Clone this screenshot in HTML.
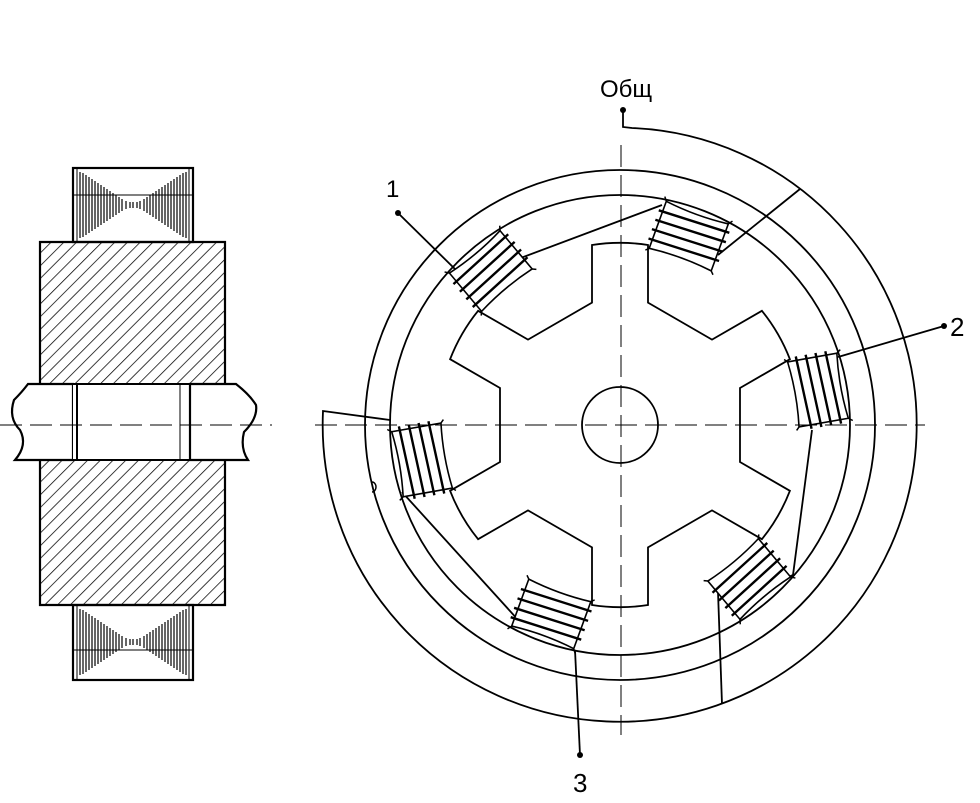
<!DOCTYPE html>
<html><head><meta charset="utf-8"><style>
html,body{margin:0;padding:0;background:#fff;}
svg{display:block;}
text{font-family:"Liberation Sans",sans-serif;fill:#000;}
</style></head><body>
<svg width="980" height="803" viewBox="0 0 980 803" xmlns="http://www.w3.org/2000/svg">
<defs>
<pattern id="h" width="9" height="9" patternUnits="userSpaceOnUse" patternTransform="rotate(45)">
<line x1="0" y1="0" x2="0" y2="9" stroke="#000" stroke-width="1.5"/>
</pattern>
<g id="coil" fill="none" stroke="#000">
<path d="M796 392 L846 392 Q842 425 846 458 L796 458 Q800 425 796 392 Z" stroke-width="1.6" fill="#fff"/>
<path d="M846 392 l4 -3 M846 458 l4 3 M796 392 l-3 -3 M796 458 l-3 3" stroke-width="1.5"/>
<path d="M805 388 L808 462 M815 388 L818 462 M825 388 L828 462 M835 388 L838 462" stroke-width="2.4"/>
</g>
</defs>

<!-- LEFT FIGURE -->
<g stroke="#000" fill="none">
<rect x="73" y="168" width="120" height="74" stroke-width="2.2"/>
<line x1="77" y1="168" x2="77" y2="242" stroke-width="1"/>
<line x1="189" y1="168" x2="189" y2="242" stroke-width="1"/>
<line x1="73" y1="195" x2="193" y2="195" stroke-width="1"/>
<path stroke-width="1.2" d="
M80 172 V238 M83 173 V237 M86 175 V235 M89 177 V233 M92 179 V231 M95 181 V229 M98 183 V227 M101 185 V225 M104 187 V223 M107 189 V221 M110 191 V219 M113 193 V217 M116 195 V215 M119 197 V213 M122 199 V211 M126 201 V209 M130 202 V208 M133 202 V208
M186 172 V238 M183 173 V237 M180 175 V235 M177 177 V233 M174 179 V231 M171 181 V229 M168 183 V227 M165 185 V225 M162 187 V223 M159 189 V221 M156 191 V219 M153 193 V217 M150 195 V215 M147 197 V213 M144 199 V211 M140 201 V209 M137 202 V208"/>
<rect x="73" y="605" width="120" height="75" stroke-width="2.2"/>
<line x1="77" y1="605" x2="77" y2="680" stroke-width="1"/>
<line x1="189" y1="605" x2="189" y2="680" stroke-width="1"/>
<line x1="73" y1="650" x2="193" y2="650" stroke-width="1"/>
<path stroke-width="1.2" d="
M80 609 V675 M83 610 V674 M86 612 V672 M89 614 V670 M92 616 V668 M95 618 V666 M98 620 V664 M101 622 V662 M104 624 V660 M107 626 V658 M110 628 V656 M113 630 V654 M116 632 V652 M119 634 V650 M122 636 V648 M126 638 V646 M130 639 V645 M133 639 V645
M186 609 V675 M183 610 V674 M180 612 V672 M177 614 V670 M174 616 V668 M171 618 V666 M168 620 V664 M165 622 V662 M162 624 V660 M159 626 V658 M156 628 V656 M153 630 V654 M150 632 V652 M147 634 V650 M144 636 V648 M140 638 V646 M137 639 V645"/>
<rect x="40" y="242" width="185" height="143" fill="url(#h)" stroke="none"/>
<rect x="40" y="460" width="185" height="145" fill="url(#h)" stroke="none"/>
<path d="M40 385 V242 H225 V385 M40 460 V605 H225 V460" stroke-width="2.2"/>
<path d="M28 384 H73 V460 H15 Q28 445 20 430 Q8 418 14 400 Q22 392 28 384 Z" fill="#fff" stroke-width="2.2"/>
<path d="M73 384 H190 V460 H73" fill="#fff" stroke-width="2"/>
<line x1="77" y1="384" x2="77" y2="460" stroke-width="2"/>
<line x1="180" y1="384" x2="180" y2="460" stroke-width="1"/>
<path d="M190 384 H236 Q250 395 256 405 Q258 418 244 432 Q240 448 248 460 H190 Z" fill="#fff" stroke-width="2.2"/>
<line x1="0" y1="425" x2="272" y2="425" stroke-width="1" stroke-dasharray="22,8"/>
</g>

<!-- RIGHT FIGURE -->
<g stroke="#000" fill="none" stroke-width="1.8">
<circle cx="620" cy="425" r="255"/>
<circle cx="620" cy="425" r="230"/>
<path d="M623 108 V127 L632 128 A297 297 0 1 1 323 411 L390 420"/>
<path fill="#fff" d="M592 245 A180 180 0 0 1 648 245 L648 302.6 L712 339.6 L761.9 310.8 A180 180 0 0 1 789.9 359.2 L740 388 L740 462 L789.9 490.8 A180 180 0 0 1 761.9 539.2 L712 510.4 L648 547.4 L648 605 A180 180 0 0 1 592 605 L592 547.4 L528 510.4 L478.1 539.2 A180 180 0 0 1 450.1 490.8 L500 462 L500 388 L450.1 359.2 A180 180 0 0 1 478.1 310.8 L528 339.6 L592 302.6 Z"/>
<circle cx="620" cy="425" r="38"/>
<path d="M398 213 L458 272"/>
<path d="M510 262 L662 205"/>
<path d="M718 255 L800 189"/>
<path d="M944 326 L838 357"/>
<path d="M812 430 L793 575 L782 580"/>
<path d="M718 592 L722 704"/>
<path d="M402 492 L520 622"/>
<path d="M575 650 L580 755"/>
<path d="M372 482 a4 5 0 0 1 0 10" stroke-width="1.5"/>
</g>
<g>
<use href="#coil" transform="rotate(-10 620 425)"/>
<use href="#coil" transform="rotate(-70 620 425)"/>
<use href="#coil" transform="rotate(-130 620 425)"/>
<use href="#coil" transform="rotate(-190 620 425)"/>
<use href="#coil" transform="rotate(-250 620 425)"/>
<use href="#coil" transform="rotate(-310 620 425)"/>
</g>
<g stroke="#000" stroke-width="1" fill="none">
<line x1="621" y1="145" x2="621" y2="735" stroke-dasharray="22,8"/>
<line x1="315" y1="425" x2="925" y2="425" stroke-dasharray="22,8"/>
</g>
<g fill="#000">
<circle cx="623" cy="110" r="3"/>
<circle cx="398" cy="213" r="3"/>
<circle cx="944" cy="326" r="3"/>
<circle cx="580" cy="755" r="3"/>
</g>
<text x="600" y="97" font-size="24">Общ</text>
<text x="386" y="197" font-size="24">1</text>
<text x="950" y="336" font-size="26">2</text>
<text x="573" y="792" font-size="26">3</text>
</svg>
</body></html>
